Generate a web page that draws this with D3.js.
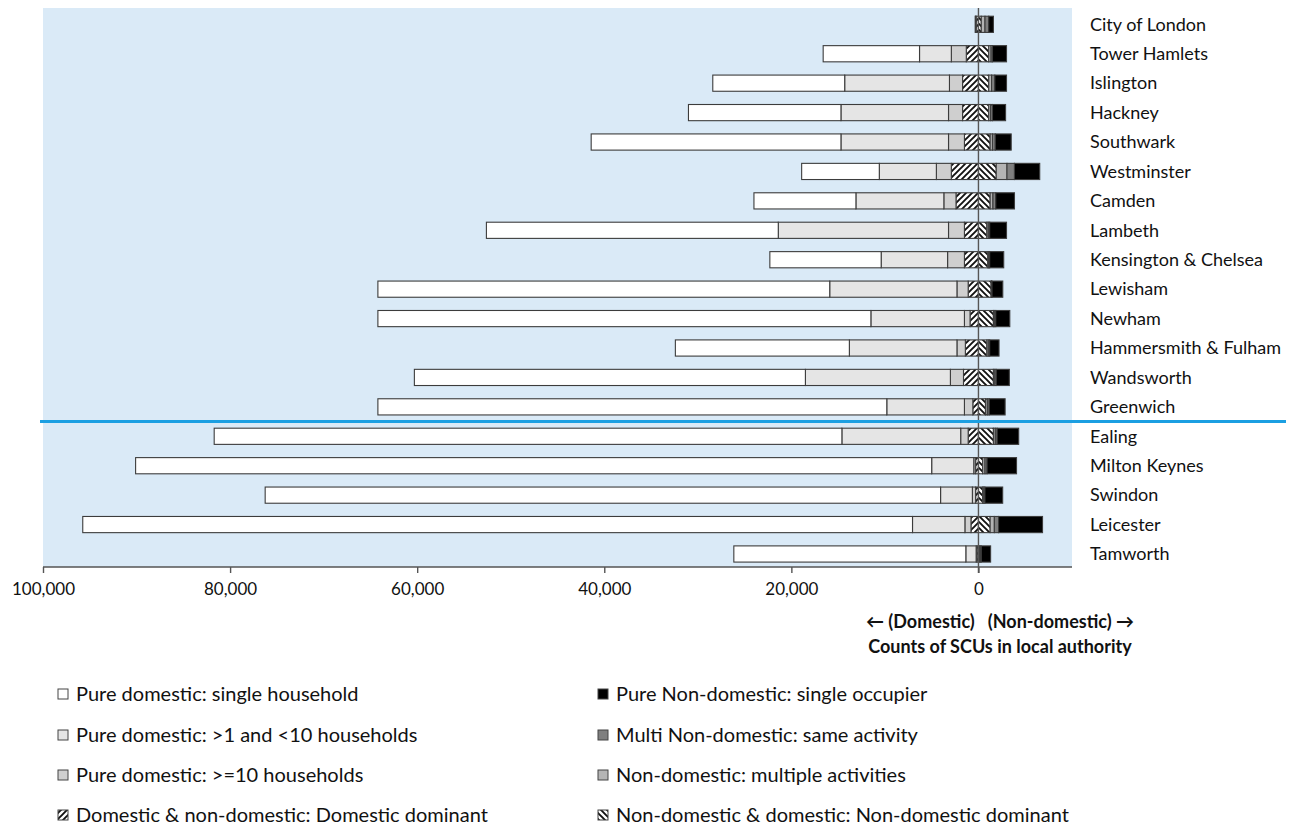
<!DOCTYPE html>
<html>
<head>
<meta charset="utf-8">
<script src="https://cdn.jsdelivr.net/npm/d3@7"></script>
<style>
html,body{margin:0;padding:0;background:#fff;}
svg{display:block;font-family:Lato,"Open Sans",sans-serif;}
</style>
</head>
<body>
<svg id="chart" width="1298" height="827"></svg>
<script>
const categories = ["City of London","Tower Hamlets","Islington","Hackney","Southwark","Westminster","Camden","Lambeth","Kensington & Chelsea","Lewisham","Newham","Hammersmith & Fulham","Wandsworth","Greenwich","Ealing","Milton Keynes","Swindon","Leicester","Tamworth"];

// Domestic side (counts, drawn to the left of zero)
const domSingle   = [0,10300,14100,16300,26700,8300,10900,31200,11900,48300,52700,18600,41800,54400,67100,85100,72200,88700,24800];
const dom2to9     = [50,3400,11200,11500,11500,6100,9400,18200,7100,13600,10000,11500,15500,8300,12700,4500,3400,5600,1100];
const dom10plus   = [50,1600,1400,1500,1700,1600,1300,1700,1800,1200,600,900,1400,900,800,200,350,650,100];
const domDominant = [250,1300,1700,1700,1500,2900,2400,1500,1500,1100,900,1400,1600,600,1100,300,300,800,150];
// Non-domestic side (drawn to the right of zero)
const ndDominant  = [300,1100,1100,1100,1250,1900,1250,900,1000,1350,1600,900,1600,750,1600,450,450,1250,100];
const ndMultiAct  = [400,250,300,200,250,1150,300,150,100,50,100,150,150,200,200,250,120,450,100];
const ndSameAct   = [400,150,350,200,300,800,300,150,100,50,150,150,150,200,200,220,120,450,100];
const ndSingle    = [500,1500,1250,1400,1700,2700,2000,1800,1500,1150,1500,1000,1400,1700,2300,3150,1900,4700,1000];

const xTicks = [-100000,-80000,-60000,-40000,-20000,0];
const axisTitle = ["\u2190 (Domestic)   (Non-domestic) \u2192","Counts of SCUs in local authority"];
const dividerAfter = "Greenwich";

const seriesDefs = [
  {key:"domDominant", label:"Domestic & non-domestic: Domestic dominant", fill:"url(#hatchDom)", vals:domDominant, sign:-1},
  {key:"dom10plus",   label:"Pure domestic: >=10 households", fill:"#cfcfcf", vals:dom10plus, sign:-1},
  {key:"dom2to9",     label:"Pure domestic: >1 and <10 households", fill:"#e5e5e5", vals:dom2to9, sign:-1},
  {key:"domSingle",   label:"Pure domestic: single household", fill:"#ffffff", vals:domSingle, sign:-1},
  {key:"ndDominant",  label:"Non-domestic & domestic: Non-domestic dominant", fill:"url(#hatchND)", vals:ndDominant, sign:1},
  {key:"ndMultiAct",  label:"Non-domestic: multiple activities", fill:"#b4b4b4", vals:ndMultiAct, sign:1},
  {key:"ndSameAct",   label:"Multi Non-domestic: same activity", fill:"#7f7f7f", vals:ndSameAct, sign:1},
  {key:"ndSingle",    label:"Pure Non-domestic: single occupier", fill:"#000000", vals:ndSingle, sign:1}
];

const table = categories.map((c,i)=>{
  const row = {cat:c};
  seriesDefs.forEach(s=>{ row[s.key] = s.sign*s.vals[i]; });
  return row;
});

const svg = d3.select("#chart");
const defs = svg.append("defs");
const pDom = defs.append("pattern").attr("id","hatchDom").attr("patternUnits","userSpaceOnUse")
  .attr("width",6).attr("height",6).attr("x",1);
pDom.append("rect").attr("width",6).attr("height",6).attr("fill","#fff");
pDom.append("path").attr("d","M-1.5,1.5 L1.5,-1.5 M0,6 L6,0 M4.5,7.5 L7.5,4.5").attr("stroke","#111").attr("stroke-width",1.9);
const pND = defs.append("pattern").attr("id","hatchND").attr("patternUnits","userSpaceOnUse")
  .attr("width",6).attr("height",6).attr("x",1);
pND.append("rect").attr("width",6).attr("height",6).attr("fill","#fff");
pND.append("path").attr("d","M-1.5,4.5 L1.5,7.5 M0,0 L6,6 M4.5,-1.5 L7.5,1.5").attr("stroke","#111").attr("stroke-width",1.9);

const plotL = 43, plotR = 1072, plotT = 8, plotB = 567;
const x = d3.scaleLinear().domain([-100000,10000]).range([plotL,plotR]);
const y = d3.scaleBand().domain(categories).range([9.6,568.7]).paddingInner(0.45).paddingOuter(0.225);

svg.append("rect").attr("x",plotL).attr("y",plotT).attr("width",plotR-plotL).attr("height",plotB-plotT).attr("fill","#daeaf7");

const stack = d3.stack().keys(seriesDefs.map(s=>s.key)).offset(d3.stackOffsetDiverging);
const stacked = stack(table);

const g = svg.append("g");
stacked.forEach((layer,li)=>{
  const def = seriesDefs[li];
  g.selectAll(null).data(layer).enter().append("rect")
    .attr("x",d=>x(Math.min(d[0],d[1])))
    .attr("width",d=>Math.abs(x(d[1])-x(d[0])))
    .attr("y",d=>y(d.data.cat))
    .attr("height",y.bandwidth())
    .attr("fill",def.fill)
    .attr("stroke","#3c3c3c")
    .attr("stroke-width",1.1);
});

// zero line
svg.append("line").attr("x1",x(0)).attr("x2",x(0)).attr("y1",plotT).attr("y2",plotB+6)
  .attr("stroke","#555").attr("stroke-width",1.4);

// x axis
const axis = d3.axisBottom(x).tickValues(xTicks).tickFormat(d=>d3.format(",")(Math.abs(d))).tickSize(6).tickSizeOuter(0);
const ax = svg.append("g").attr("transform",`translate(0,${plotB})`).call(axis);
ax.select(".domain").attr("stroke","#555").attr("stroke-width",1.4).attr("d",`M${plotL},0H${plotR}`);
ax.selectAll(".tick line").attr("stroke","#555").attr("stroke-width",1.4);
ax.selectAll(".tick text").attr("font-size",17).attr("fill","#111").attr("font-family","Lato,sans-serif").attr("dy","1.1em");

// category labels on right
svg.selectAll(".cat").data(categories).enter().append("text")
  .attr("x",1090).attr("y",d=>y(d)+y.bandwidth()/2).attr("dy","0.35em")
  .attr("font-size",18).attr("fill","#111").text(d=>d);

// divider line
const yDiv = (y(dividerAfter)+y.bandwidth() + y(categories[categories.indexOf(dividerAfter)+1]))/2;
svg.append("line").attr("x1",40).attr("x2",1286).attr("y1",yDiv).attr("y2",yDiv)
  .attr("stroke","#1b9fe2").attr("stroke-width",3);

// axis title
svg.selectAll(".at").data(axisTitle).enter().append("text")
  .attr("x",1000).attr("y",(d,i)=>622+i*25).attr("dy","0.35em").attr("text-anchor","middle")
  .attr("font-size",18).attr("font-weight","bold").attr("fill","#111").attr("xml:space","preserve")
  .style("white-space","pre").text(d=>d);

// legend
const legendOrder = [
  ["domSingle",58,694],["dom2to9",58,735],["dom10plus",58,775],["domDominant",58,815],
  ["ndSingle",598,694],["ndSameAct",598,735],["ndMultiAct",598,775],["ndDominant",598,815]
];
const lg = svg.append("g");
legendOrder.forEach(([k,lx,ly])=>{
  const s = seriesDefs.find(d=>d.key===k);
  lg.append("rect").attr("x",lx).attr("y",ly-5).attr("width",10).attr("height",10)
    .attr("fill",s.fill).attr("stroke","#444").attr("stroke-width",1);
  lg.append("text").attr("x",lx+18).attr("y",ly).attr("dy","0.35em").attr("font-size",20).attr("fill","#111").text(s.label);
});
</script>
</body>
</html>
